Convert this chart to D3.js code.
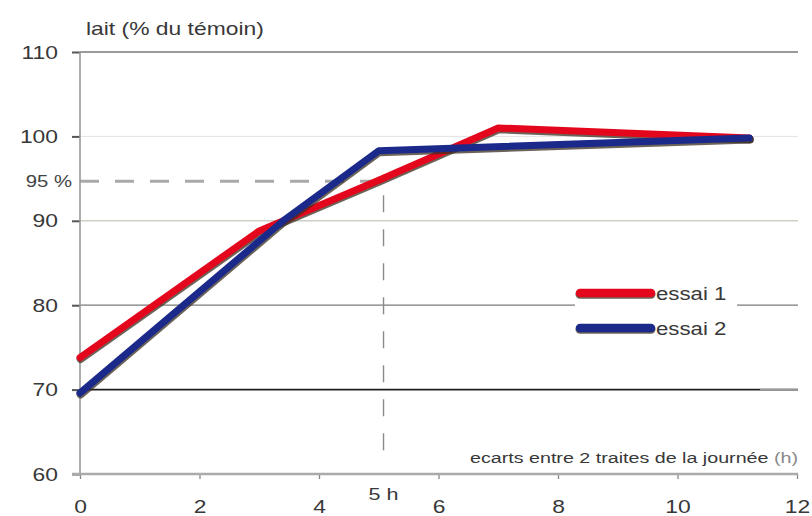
<!DOCTYPE html>
<html><head><meta charset="utf-8">
<script src="https://cdn.jsdelivr.net/npm/d3@7/dist/d3.min.js"></script>
<style>
html,body{margin:0;padding:0;background:#fff;}
svg{display:block;font-family:"Liberation Sans",Arial,sans-serif;}
</style></head>
<body>
<svg id="chart" width="812" height="516"></svg>
<script>
// ---- data ----
const xTicks = [0, 2, 4, 6, 8, 10, 12];
const yTicks = [60, 70, 80, 90, 100, 110];
const hoursEssai1 = [0, 3, 5, 7, 11.2];
const valuesEssai1 = [73.8, 88.8, 94.8, 101, 99.8];
const hoursEssai2 = [0, 3.4, 5, 11.2];
const valuesEssai2 = [69.6, 90, 98.3, 99.8];
const seriesNames = ["essai 1", "essai 2"];
const seriesColors = ["#e3061d", "#1b2a8a"];
const refValue = 94.7;    // dashed "95 %" line as drawn
const refLabel = "95 %";
const refHour = 5.08;     // 5 h
const refHourLabel = "5 h";
const yTitle = "lait (% du témoin)";
const xTitle = "ecarts entre 2 traites de la journée";
const xTitleUnit = " (h)";

const SX = 1.27; // horizontal stretch of the text in the reference
const svg = d3.select("#chart");
const x = d3.scaleLinear().domain([0, 12]).range([80, 797]);
const y = d3.scaleLinear().domain([60, 110]).range([474, 52]);
const xr = [72, 798];

function txt(g, px, py, s, size, anchor, color) {
  return g.append("text")
    .attr("transform", `translate(${px},${py}) scale(${SX},1)`)
    .attr("text-anchor", anchor || "start")
    .style("font-size", size + "px")
    .attr("fill", color || "#333")
    .text(s);
}

// grid lines
const gridStyle = {
  110: ["#9a9a9a", 2],
  100: ["#e2e2e2", 1],
  90: ["#cfcfc6", 1.6],
  80: ["#7a7a7a", 1.3],
  70: ["#1e1e1e", 1.6]
};
const grid = svg.append("g");
yTicks.filter(v => v > 60).forEach(v => {
  grid.append("line")
    .attr("x1", x(0)).attr("x2", xr[1])
    .attr("y1", y(v)).attr("y2", y(v))
    .attr("stroke", gridStyle[v][0]).attr("stroke-width", gridStyle[v][1]);
});
// lighter tail of the 70 line
grid.append("line").attr("x1", 760).attr("x2", xr[1]).attr("y1", y(70)).attr("y2", y(70))
  .attr("stroke", "#9a9a9a").attr("stroke-width", 1.6);

// reference dashed lines
svg.append("line")
  .attr("x1", x(0)).attr("x2", x(refHour) - 2)
  .attr("y1", y(refValue)).attr("y2", y(refValue))
  .attr("stroke", "#a9a9a9").attr("stroke-width", 3)
  .attr("stroke-dasharray", "19,16");
svg.append("line")
  .attr("x1", x(refHour)).attr("x2", x(refHour))
  .attr("y1", y(refValue) + 14).attr("y2", 462)
  .attr("stroke", "#8a8a8a").attr("stroke-width", 1.4)
  .attr("stroke-dasharray", "17,17");

// axes
const yAxis = svg.append("g").attr("transform", `translate(${x(0)},0)`)
  .call(d3.axisLeft(y).tickValues(yTicks).tickSize(8).tickPadding(14));
yAxis.select(".domain").remove();
yAxis.selectAll(".tick line").attr("stroke", "#555").attr("stroke-width", 2);
yAxis.selectAll(".tick text")
  .attr("x", -22 / SX).attr("transform", `scale(${SX},1)`)
  .attr("dy", "0.34em")
  .style("font-size", "18px").style("font-family", "Liberation Sans, Arial, sans-serif")
  .attr("fill", "#383838");

svg.append("line").attr("x1", x(0)).attr("x2", x(0)).attr("y1", y(110)).attr("y2", y(60))
  .attr("stroke", "#999").attr("stroke-width", 1.6);

const xAxis = svg.append("g").attr("transform", `translate(0,${y(60)})`)
  .call(d3.axisBottom(x).tickValues(xTicks).tickSize(5).tickPadding(21));
xAxis.select(".domain").remove();
xAxis.selectAll(".tick line").attr("stroke", "#888").attr("stroke-width", 1.3);
xAxis.selectAll(".tick text")
  .attr("transform", `scale(${SX},1)`)
  .style("font-size", "18px").style("font-family", "Liberation Sans, Arial, sans-serif")
  .attr("fill", "#383838");
svg.append("line").attr("x1", xr[0]).attr("x2", xr[1]).attr("y1", y(60)).attr("y2", y(60))
  .attr("stroke", "#aaa").attr("stroke-width", 2.6);

// labels
txt(svg, 86, 35, yTitle, 18, "start", "#383838");
txt(svg, 72, y(refValue) + 6, refLabel, 16, "end", "#444");
txt(svg, x(refHour), 500, refHourLabel, 17, "middle", "#383838");
const xt = txt(svg, 798, 463, "", 15.5, "end", "#383838");
xt.append("tspan").text(xTitle);
xt.append("tspan").attr("fill", "#888").text(xTitleUnit);

// series
const line = d3.line().x(d => x(d[0])).y(d => y(d[1]));
const series = [
  d3.zip(hoursEssai1, valuesEssai1),
  d3.zip(hoursEssai2, valuesEssai2)
];
const lines = svg.append("g");
series.forEach((pts, i) => {
  lines.append("path").datum(pts).attr("d", line)
    .attr("transform", "translate(0.6,1.4)")
    .attr("fill", "none").attr("stroke", "#3b2f22").attr("stroke-opacity", 0.75)
    .attr("stroke-width", 8).attr("stroke-linejoin", "round").attr("stroke-linecap", "round");
  lines.append("path").datum(pts).attr("d", line)
    .attr("fill", "none").attr("stroke", seriesColors[i])
    .attr("stroke-width", 7).attr("stroke-linejoin", "round").attr("stroke-linecap", "round");
});

// legend
const lg = svg.append("g");
lg.append("rect").attr("x", 575).attr("y", 282).attr("width", 162).attr("height", 58).attr("fill", "#fff");
seriesNames.forEach((name, i) => {
  const ly = 293 + i * 35;
  lg.append("line").attr("x1", 580).attr("x2", 651).attr("y1", ly + 1.3).attr("y2", ly + 1.3)
    .attr("stroke", "#3b2f22").attr("stroke-opacity", 0.75)
    .attr("stroke-width", 9).attr("stroke-linecap", "round");
  lg.append("line").attr("x1", 580).attr("x2", 651).attr("y1", ly).attr("y2", ly)
    .attr("stroke", seriesColors[i]).attr("stroke-width", 8.5).attr("stroke-linecap", "round");
  txt(lg, 656, ly + 7, name, 17.5, "start", "#383838");
});
</script>
</body></html>
